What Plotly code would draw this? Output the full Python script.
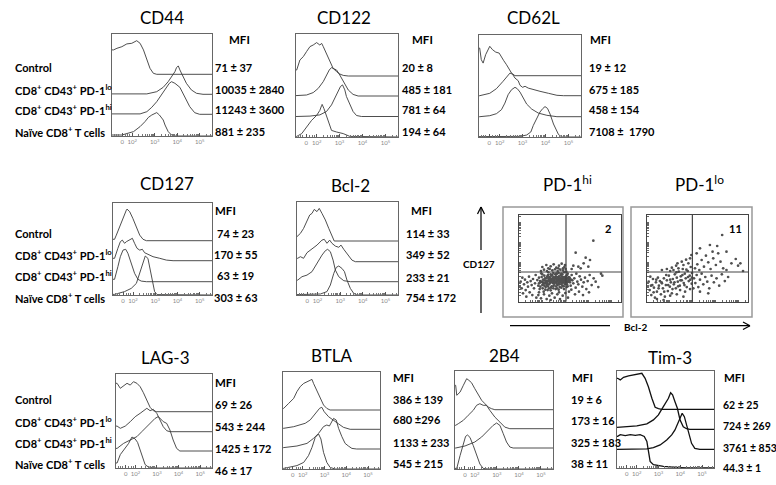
import math
import plotly.graph_objects as go

W, H = 776, 485
XMIN, XMAX = 1.1, 5.55
LANE_PX = 20.0

# ---------------- text data ----------------
GROUPS = ["Control",
          "CD8<sup>+</sup> CD43<sup>+</sup> PD-1<sup>lo</sup>",
          "CD8<sup>+</sup> CD43<sup>+</sup> PD-1<sup>hi</sup>",
          "Naïve CD8<sup>+</sup> T cells"]
TICK_VALUES = [1.55, 2, 3, 4, 5]
TICK_TEXT = ["0", "10<sup>2</sup>", "10<sup>3</sup>", "10<sup>4</sup>", "10<sup>5</sup>"]

MFI_CD44 = ["71 ± 37", "10035 ± 2840", "11243 ± 3600", "881 ± 235"]
MFI_CD122 = ["20 ± 8", "485 ± 181", "781 ± 64", "194 ± 64"]
MFI_CD62L = ["19 ± 12", "675 ± 185", "458 ± 154", "7108 ±  1790"]
MFI_CD127 = ["74 ± 23", "170 ± 55", "63 ± 19", "303 ± 63"]
MFI_BCL2 = ["114 ± 33", "349 ± 52", "233 ± 21", "754 ± 172"]
MFI_LAG3 = ["69 ± 26", "543 ± 244", "1425 ± 172", "46 ± 17"]
MFI_BTLA = ["386 ± 139", "680 ±296", "1133 ± 233", "545 ± 215"]
MFI_2B4 = ["19 ± 6", "173 ± 16", "325 ± 183", "38 ± 11"]
MFI_TIM3 = ["62 ± 25", "724 ± 269", "3761 ± 853", "44.3 ± 1"]

QUADRANT_PCT_HI = "2"
QUADRANT_PCT_LO = "11"

# ---------------- histogram data (log-decade position, relative count) ----------------
CD44_CONTROL_U = [1.17, 1.32, 1.54, 1.76, 1.98, 2.2, 2.35, 2.5, 2.65, 2.79, 2.94, 3.09]
CD44_CONTROL_H = [1.22, 1.3, 1.38, 1.52, 1.55, 1.68, 1.55, 1.22, 0.72, 0.3, 0.05, 0]
CD44_LO_U = [2.65, 3.09, 3.38, 3.6, 3.75, 3.9, 3.97, 4.05, 4.12, 4.24, 4.41, 4.63, 4.86, 5.15]
CD44_LO_H = [0.02, 0.13, 0.35, 0.63, 0.88, 1.13, 1.33, 1.42, 1.22, 0.97, 0.55, 0.22, 0.05, 0]
CD44_HI_U = [2.35, 2.65, 2.87, 3.09, 3.24, 3.38, 3.53, 3.65, 3.75, 3.9, 4.12, 4.34, 4.56, 4.78, 5.0]
CD44_HI_H = [0.02, 0.13, 0.35, 0.63, 0.88, 1.13, 1.35, 1.55, 1.63, 1.55, 1.35, 0.88, 0.38, 0.08, 0]
CD44_NAIVE_U = [1.54, 2.06, 2.35, 2.57, 2.72, 2.87, 3.01, 3.09, 3.21, 3.31, 3.38, 3.46, 3.6, 3.75, 3.9]
CD44_NAIVE_H = [0.05, 0.22, 0.47, 0.72, 0.93, 1.05, 1.13, 1.17, 1.05, 0.93, 0.8, 0.55, 0.22, 0.05, 0]

CD122_CONTROL_U = [1.13, 1.27, 1.42, 1.56, 1.71, 1.85, 2.0, 2.14, 2.22, 2.29, 2.43, 2.58, 2.72, 2.87, 3.01, 3.16, 3.38]
CD122_CONTROL_H = [0.3, 0.8, 0.97, 1.22, 1.47, 1.55, 1.67, 1.55, 1.63, 1.47, 1.13, 0.72, 0.38, 0.22, 0.1, 0.03, 0]
CD122_LO_U = [1.13, 1.56, 1.85, 2.07, 2.29, 2.43, 2.55, 2.65, 2.8, 2.87, 3.01, 3.16, 3.38, 3.59, 3.81]
CD122_LO_H = [0.02, 0.05, 0.17, 0.38, 0.72, 1.05, 1.3, 1.42, 1.35, 1.3, 1.05, 0.72, 0.3, 0.08, 0]
CD122_HI_U = [1.13, 1.71, 2.14, 2.43, 2.65, 2.8, 2.94, 3.04, 3.13, 3.23, 3.3, 3.45, 3.59, 3.74, 3.96]
CD122_HI_H = [0, 0.02, 0.08, 0.25, 0.58, 0.92, 1.25, 1.5, 1.58, 1.33, 1.0, 0.58, 0.25, 0.05, 0]
CD122_NAIVE_U = [1.13, 1.35, 1.56, 1.78, 2.0, 2.14, 2.22, 2.24, 2.32, 2.43, 2.58, 2.65, 2.87, 3.16, 3.45]
CD122_NAIVE_H = [0.03, 0.17, 0.5, 0.83, 1.08, 1.33, 1.58, 1.63, 1.42, 1.08, 0.58, 0.33, 0.25, 0.17, 0.03]

CD62L_CONTROL_U = [1.13, 1.2, 1.28, 1.39, 1.5, 1.57, 1.69, 1.83, 1.98, 2.08, 2.18, 2.3, 2.42, 2.52, 2.67]
CD62L_CONTROL_H = [1.38, 0.8, 0.63, 1.05, 1.35, 1.47, 1.3, 1.18, 1.13, 0.97, 0.75, 0.55, 0.35, 0.13, 0]
CD62L_LO_U = [1.13, 1.57, 1.86, 2.15, 2.3, 2.45, 2.56, 2.67, 2.81, 2.89, 3.0, 3.11, 3.25, 3.47, 3.76, 4.13, 4.5, 4.79]
CD62L_LO_H = [0, 0.12, 0.35, 0.72, 0.92, 1.13, 1.08, 0.88, 0.75, 0.52, 0.42, 0.47, 0.38, 0.3, 0.22, 0.12, 0.02, 0]
CD62L_HI_U = [1.13, 1.57, 1.86, 2.08, 2.23, 2.37, 2.52, 2.67, 2.77, 2.89, 3.03, 3.18, 3.4, 3.69, 4.06, 4.5]
CD62L_HI_H = [0, 0.05, 0.15, 0.35, 0.68, 1.1, 1.35, 1.47, 1.4, 1.23, 0.9, 0.63, 0.38, 0.18, 0.07, 0]
CD62L_NAIVE_U = [1.13, 2.89, 3.18, 3.36, 3.47, 3.62, 3.76, 3.88, 3.98, 4.09, 4.2, 4.35, 4.47, 4.57, 4.72]
CD62L_NAIVE_H = [0.02, 0.03, 0.1, 0.25, 0.58, 0.95, 1.25, 1.42, 1.52, 1.43, 1.15, 0.65, 0.32, 0.12, 0]

CD127_CONTROL_U = [1.17, 1.25, 1.4, 1.55, 1.7, 1.73, 1.85, 1.99, 2.15, 2.3, 2.45, 2.6]
CD127_CONTROL_H = [0.07, 0.28, 0.7, 1.2, 1.53, 1.58, 1.45, 1.12, 0.7, 0.28, 0.07, 0]
CD127_LO_U = [1.17, 1.32, 1.43, 1.52, 1.62, 1.7, 1.85, 1.97, 2.07, 2.18, 2.3, 2.42, 2.52, 2.67, 2.9, 3.2, 3.5, 3.8]
CD127_LO_H = [0.12, 0.62, 0.95, 1.03, 0.87, 0.95, 1.03, 1.12, 0.87, 0.62, 0.53, 0.57, 0.4, 0.32, 0.2, 0.12, 0.03, 0]
CD127_HI_U = [1.17, 1.32, 1.43, 1.55, 1.67, 1.77, 1.92, 2.07, 2.22, 2.37, 2.6]
CD127_HI_H = [0.12, 0.75, 1.25, 1.58, 1.62, 1.42, 0.92, 0.42, 0.12, 0.03, 0]
CD127_NAIVE_U = [1.17, 1.62, 1.92, 2.15, 2.3, 2.45, 2.55, 2.67, 2.78, 2.9, 2.97, 3.08]
CD127_NAIVE_H = [0.03, 0.17, 0.33, 0.58, 1.08, 1.67, 1.95, 1.83, 1.25, 0.58, 0.17, 0.02]

BCL2_CONTROL_U = [1.1, 1.25, 1.39, 1.54, 1.66, 1.76, 1.86, 1.98, 2.08, 2.2, 2.35, 2.5, 2.64, 2.74]
BCL2_CONTROL_H = [0.22, 0.38, 0.63, 0.97, 1.3, 1.38, 1.58, 1.47, 1.63, 1.38, 1.05, 0.63, 0.22, 0]
BCL2_LO_U = [1.13, 1.25, 1.39, 1.54, 1.76, 1.98, 2.2, 2.3, 2.42, 2.54, 2.64, 2.79, 2.94, 3.04, 3.16, 3.33, 3.52, 3.67]
BCL2_LO_H = [0.17, 0.25, 0.17, 0.45, 0.62, 0.83, 1.08, 1.12, 0.92, 1.08, 0.92, 0.78, 0.72, 0.83, 0.62, 0.37, 0.08, 0]
BCL2_HI_U = [1.13, 1.32, 1.54, 1.76, 1.98, 2.2, 2.35, 2.45, 2.57, 2.69, 2.79, 2.94, 3.16, 3.45]
BCL2_HI_H = [0.08, 0.25, 0.33, 0.5, 0.92, 1.33, 1.55, 1.62, 1.5, 1.08, 0.58, 0.25, 0.05, 0]
BCL2_NAIVE_U = [1.13, 2.13, 2.42, 2.57, 2.72, 2.83, 2.94, 3.08, 3.19, 3.3, 3.45, 3.6, 3.74]
BCL2_NAIVE_H = [0.02, 0.05, 0.17, 0.5, 1.08, 1.38, 1.45, 1.33, 1.17, 0.75, 0.33, 0.08, 0]

LAG3_CONTROL_U = [1.15, 1.3, 1.45, 1.61, 1.76, 1.91, 2.07, 2.22, 2.37, 2.53, 2.68, 2.83, 2.99]
LAG3_CONTROL_H = [1.42, 1.17, 1.28, 1.42, 1.33, 1.5, 1.42, 1.25, 0.95, 0.58, 0.22, 0.05, 0]
LAG3_LO_U = [1.15, 1.3, 1.53, 1.76, 1.99, 2.22, 2.4, 2.53, 2.68, 2.83, 2.99, 3.14, 3.29, 3.45, 3.6]
LAG3_LO_H = [0.28, 0.17, 0.28, 0.5, 0.75, 0.92, 1.08, 1.17, 1.05, 1.12, 0.92, 0.58, 0.25, 0.05, 0]
LAG3_HI_U = [1.15, 1.45, 1.76, 2.07, 2.3, 2.53, 2.76, 2.91, 3.06, 3.14, 3.29, 3.45, 3.6, 3.75, 3.91, 4.06]
LAG3_HI_H = [0.13, 0.38, 0.55, 0.72, 0.97, 1.22, 1.47, 1.63, 1.72, 1.63, 1.47, 1.38, 1.05, 0.55, 0.13, 0]
LAG3_NAIVE_U = [1.15, 1.3, 1.53, 1.68, 1.84, 1.99, 2.1, 2.22, 2.34, 2.45, 2.6, 2.99]
LAG3_NAIVE_H = [0.25, 0.67, 1.0, 1.22, 1.55, 1.45, 1.28, 0.92, 0.5, 0.17, 0.05, 0]

BTLA_CONTROL_U = [1.13, 1.36, 1.59, 1.74, 1.89, 2.05, 2.2, 2.35, 2.43, 2.5, 2.65, 2.81, 2.96, 3.11, 3.26]
BTLA_CONTROL_H = [0.08, 0.33, 0.58, 0.92, 1.17, 1.33, 1.42, 1.47, 1.53, 1.33, 1.0, 0.58, 0.25, 0.08, 0]
BTLA_LO_U = [1.13, 1.59, 1.89, 2.12, 2.35, 2.58, 2.78, 2.88, 2.99, 3.19, 3.42, 3.65, 3.87, 4.18]
BTLA_LO_H = [0.05, 0.13, 0.22, 0.3, 0.47, 0.8, 1.05, 1.1, 0.88, 0.63, 0.47, 0.27, 0.1, 0]
BTLA_HI_U = [1.13, 1.74, 2.2, 2.5, 2.73, 2.96, 3.11, 3.23, 3.34, 3.42, 3.54, 3.65, 3.8, 3.95, 4.1, 4.26, 4.48]
BTLA_HI_H = [0.07, 0.15, 0.28, 0.53, 0.78, 1.12, 1.2, 1.15, 1.37, 1.53, 1.45, 1.03, 0.62, 0.28, 0.15, 0.03, 0]
BTLA_NAIVE_U = [1.13, 1.74, 2.05, 2.27, 2.43, 2.58, 2.73, 2.84, 2.96, 3.11, 3.26, 3.49]
BTLA_NAIVE_H = [0.03, 0.17, 0.33, 0.67, 1.08, 1.58, 1.75, 1.5, 0.83, 0.33, 0.08, 0]

B2B4_CONTROL_U = [1.13, 1.18, 1.33, 1.48, 1.63, 1.73, 1.85, 2.0, 2.16, 2.31, 2.46, 2.61, 2.76, 2.91]
B2B4_CONTROL_H = [1.22, 0.72, 0.88, 1.22, 1.55, 1.47, 1.35, 1.05, 0.72, 0.47, 0.3, 0.13, 0.05, 0]
B2B4_LO_U = [1.13, 1.25, 1.48, 1.7, 1.93, 2.08, 2.23, 2.38, 2.53, 2.68, 2.91, 3.14, 3.36, 3.59]
B2B4_LO_H = [0.17, 0.25, 0.42, 0.67, 0.92, 1.17, 1.25, 1.17, 1.17, 0.92, 0.58, 0.33, 0.08, 0]
B2B4_HI_U = [1.13, 1.55, 2.0, 2.31, 2.61, 2.83, 2.99, 3.14, 3.29, 3.44, 3.59, 3.74]
B2B4_HI_H = [0, 0.1, 0.3, 0.55, 0.88, 1.13, 1.25, 1.13, 0.72, 0.3, 0.05, 0]
B2B4_NAIVE_U = [1.18, 1.33, 1.48, 1.58, 1.67, 1.78, 1.93, 2.08, 2.23, 2.38, 2.61]
B2B4_NAIVE_H = [0.03, 0.67, 1.33, 1.63, 1.7, 1.58, 1.17, 0.67, 0.25, 0.03, 0]

TIM3_CONTROL_U = [1.13, 1.25, 1.4, 1.63, 1.86, 2.09, 2.24, 2.39, 2.54, 2.7, 2.85, 3.0, 3.15]
TIM3_CONTROL_H = [1.55, 1.47, 1.6, 1.67, 1.72, 1.8, 1.8, 1.55, 1.13, 0.55, 0.1, 0.03, 0]
TIM3_LO_U = [1.13, 1.56, 2.01, 2.47, 2.77, 3.0, 3.15, 3.3, 3.46, 3.56, 3.65, 3.76, 3.87, 3.99, 4.14, 4.29, 4.44]
TIM3_LO_H = [0.1, 0.13, 0.17, 0.27, 0.47, 0.72, 1.0, 1.3, 1.55, 1.83, 1.72, 1.38, 1.05, 0.47, 0.13, 0.03, 0]
TIM3_HI_U = [1.13, 2.47, 2.77, 3.08, 3.38, 3.61, 3.76, 3.91, 4.02, 4.09, 4.19, 4.29, 4.4, 4.52, 4.67, 4.9]
TIM3_HI_H = [0, 0.02, 0.08, 0.22, 0.47, 0.72, 0.97, 1.38, 1.67, 1.8, 1.63, 1.22, 0.72, 0.3, 0.05, 0]
TIM3_NAIVE_U = [1.13, 1.25, 1.48, 1.71, 1.94, 2.16, 2.35, 2.47, 2.54, 2.62, 2.77, 3.23, 3.99, 4.29]
TIM3_NAIVE_H = [1.58, 1.67, 1.62, 1.67, 1.63, 1.67, 1.58, 1.33, 0.75, 0.33, 0.17, 0.08, 0.02, 0]

# ---------------- dot plot data (Bcl-2 channel, CD127 channel) ----------------
PDHI_POINTS = [
    (5, 60), (8, 40), (10, 72), (12, 25), (15, 52), (18, 66), (20, 35), (22, 15), (25, 58), (27, 45),
    (30, 75), (32, 28), (35, 62), (38, 50), (40, 20), (42, 68), (45, 40), (48, 55), (50, 80), (52, 12),
    (55, 65), (58, 48), (60, 72), (62, 38), (65, 58), (67, 85), (70, 50), (72, 66), (74, 30), (76, 78),
    (78, 55), (80, 44), (82, 70), (84, 62), (86, 35), (88, 88), (90, 52), (92, 74), (94, 60), (96, 42),
    (98, 68), (100, 80), (102, 56), (104, 48), (106, 64), (108, 72), (110, 38), (112, 58), (114, 84), (116, 50),
    (118, 66), (120, 76), (122, 44), (124, 60), (126, 70), (128, 54), (130, 82), (132, 62), (134, 46), (136, 74),
    (138, 58), (140, 66), (142, 90), (144, 52),
    (63, 62), (68, 74), (73, 54), (77, 64), (81, 58), (85, 76), (89, 66), (93, 56), (97, 78), (101, 70),
    (105, 58), (109, 82), (113, 66), (117, 74), (121, 60), (125, 80), (129, 68), (133, 70), (137, 64), (141, 76),
    (145, 70), (64, 45), (71, 40), (79, 36), (87, 46), (95, 34), (103, 40), (111, 46), (119, 36), (127, 42),
    (135, 38), (143, 44), (66, 92), (75, 96), (84, 92), (92, 98), (100, 94), (108, 97), (116, 92), (124, 96),
    (132, 94), (140, 98), (58, 20), (66, 10), (75, 22), (83, 8), (91, 18), (99, 25), (107, 12), (115, 22),
    (123, 8), (131, 18), (139, 26), (147, 12), (60, 28), (95, 5), (120, 28),
    (70, 104), (82, 110), (95, 106), (104, 112), (112, 102), (120, 108), (128, 114), (136, 104), (138, 110),
    (88, 100), (118, 100), (132, 100),
    (148, 60), (152, 72), (155, 48), (158, 80), (160, 64), (163, 55), (166, 70), (170, 42), (172, 84), (175, 60),
    (178, 52), (182, 76), (186, 66), (190, 45), (194, 58), (198, 72), (202, 38), (206, 62), (212, 80), (218, 50),
    (224, 70), (230, 60), (238, 44), (246, 84), (250, 78), (146, 84), (150, 30), (157, 36), (168, 22), (180, 30),
    (192, 20), (210, 28),
    (223, 183), (170, 147), (200, 132), (213, 125), (194, 115), (178, 105), (158, 98), (185, 100), (163, 108), (208, 105),
    (91, 62), (99, 58), (107, 68), (115, 62), (123, 70), (131, 58), (139, 72), (147, 64), (153, 58), (103, 74),
    (111, 76), (119, 56), (127, 64), (135, 66), (143, 60), (151, 68), (96, 66), (104, 62), (112, 70), (120, 64),
    (128, 76), (136, 56), (144, 80), (149, 74), (156, 66),
    (86, 60), (94, 70), (102, 64), (110, 60), (118, 72), (126, 58), (134, 62), (142, 68), (150, 62), (88, 72),
    (97, 62), (105, 72), (113, 54), (121, 68), (129, 62), (137, 70), (145, 58), (153, 66), (100, 66), (108, 58),
    (116, 68), (124, 66), (132, 74), (140, 60), (148, 70), (84, 54), (92, 66), (106, 54), (122, 52), (138, 52),
    (72, 58), (78, 70), (80, 62), (87, 80), (95, 82), (103, 86), (111, 84), (119, 86), (127, 84), (135, 88),
    (60, 55), (68, 60), (70, 82), (76, 48), (83, 50), (90, 40), (98, 46), (114, 40), (130, 48), (146, 46),
]
PDLO_POINTS = [
    (5, 60), (8, 35), (10, 75), (13, 20), (16, 50), (18, 68), (21, 42), (24, 12), (27, 58), (30, 30),
    (33, 72), (36, 48), (39, 62), (42, 22), (45, 55), (48, 40), (51, 70), (54, 15), (57, 50), (60, 64),
    (63, 32), (66, 78), (69, 45), (72, 58), (75, 25),
    (78, 68), (81, 52), (84, 82), (87, 40), (90, 72), (93, 60), (96, 90), (99, 48), (102, 76), (105, 64),
    (108, 98), (111, 56), (114, 84), (117, 70), (120, 44), (123, 92), (126, 62), (129, 78), (132, 104), (135, 54),
    (136, 86), (80, 95), (95, 100), (110, 110), (125, 115), (100, 35), (115, 30), (130, 38),
    (45, 95), (60, 98), (75, 102), (88, 108), (105, 120), (118, 126), (130, 130), (134, 140), (70, 92), (92, 115),
    (142, 70), (146, 56), (150, 80), (155, 44), (160, 66), (165, 84), (170, 52), (176, 74), (182, 60), (188, 40),
    (195, 78), (202, 58), (210, 70), (218, 48), (226, 82), (235, 62), (245, 74), (140, 40), (160, 30), (185, 25),
    (145, 100), (152, 112), (158, 95), (165, 125), (172, 105), (178, 138), (185, 118), (192, 98), (200, 130), (208, 110),
    (215, 145), (222, 120), (230, 100), (240, 150), (255, 115), (268, 128), (282, 115), (290, 92), (227, 200), (190, 170),
    (212, 167), (150, 145), (160, 160), (198, 150), (275, 108), (240, 95),
    (12, 48), (20, 28), (28, 66), (35, 40), (44, 58), (52, 30), (58, 80), (64, 50), (70, 66), (77, 38),
    (83, 58), (89, 88), (94, 46), (101, 64), (107, 80), (113, 50), (119, 96), (124, 74), (131, 66), (136, 72),
    (30, 8), (50, 5), (70, 18), (90, 22), (110, 15),
]
QUAD_HI_X, QUAD_LO_X, QUAD_Y = 141, 137, 89
SCAT_HI_XRANGE, SCAT_LO_XRANGE, SCAT_YRANGE = 306, 305, 260

# ---------------- layout ----------------
FONT = "Lato, 'Open Sans', sans-serif"
def px(x):
    return x / W
def py(y):
    return 1 - y / H

HIST_PANELS = [
    dict(title="CD44", box=(112, 212, 34, 136), base=(74.3, 94.3, 114.3), tpos=(162, 18),
         curves=[(CD44_CONTROL_U, CD44_CONTROL_H), (CD44_LO_U, CD44_LO_H), (CD44_HI_U, CD44_HI_H), (CD44_NAIVE_U, CD44_NAIVE_H)],
         mfi=MFI_CD44, mx=213, malign="left", my=(68, 89, 110, 132), head=(227, 39)),
    dict(title="CD122", box=(296, 398, 34, 137), base=(76, 96, 116.5), tpos=(344, 18),
         curves=[(CD122_CONTROL_U, CD122_CONTROL_H), (CD122_LO_U, CD122_LO_H), (CD122_HI_U, CD122_HI_H), (CD122_NAIVE_U, CD122_NAIVE_H)],
         mfi=MFI_CD122, mx=400, malign="left", my=(68, 89, 110, 132), head=(410, 39)),
    dict(title="CD62L", box=(479, 581, 35, 137), base=(75.7, 95.7, 116.7), tpos=(533, 18),
         curves=[(CD62L_CONTROL_U, CD62L_CONTROL_H), (CD62L_LO_U, CD62L_LO_H), (CD62L_HI_U, CD62L_HI_H), (CD62L_NAIVE_U, CD62L_NAIVE_H)],
         mfi=MFI_CD62L, mx=587, malign="left", my=(68, 89, 110, 132), head=(588, 39)),
    dict(title="CD127", box=(113, 212, 203, 295), base=(240.7, 260.7, 281.7), tpos=(167, 183),
         curves=[(CD127_CONTROL_U, CD127_CONTROL_H), (CD127_LO_U, CD127_LO_H), (CD127_HI_U, CD127_HI_H), (CD127_NAIVE_U, CD127_NAIVE_H)],
         mfi=MFI_CD127, mx=236, malign="center", my=(233, 254, 275, 297), head=(213, 210)),
    dict(title="Bcl-2", box=(297, 398, 202, 295), base=(241, 261.7, 281.7), tpos=(350, 185),
         curves=[(BCL2_CONTROL_U, BCL2_CONTROL_H), (BCL2_LO_U, BCL2_LO_H), (BCL2_HI_U, BCL2_HI_H), (BCL2_NAIVE_U, BCL2_NAIVE_H)],
         mfi=MFI_BCL2, mx=404, malign="left", my=(233, 254, 277, 297), head=(409, 210)),
    dict(title="LAG-3", box=(116, 212, 374, 468), base=(411.7, 431.7, 451), tpos=(165, 357),
         curves=[(LAG3_CONTROL_U, LAG3_CONTROL_H), (LAG3_LO_U, LAG3_LO_H), (LAG3_HI_U, LAG3_HI_H), (LAG3_NAIVE_U, LAG3_NAIVE_H)],
         mfi=MFI_LAG3, mx=213, malign="left", my=(404, 426, 448, 470), head=(213, 382)),
    dict(title="BTLA", box=(283, 380, 372, 469), base=(410, 429.3, 449), tpos=(332, 355),
         curves=[(BTLA_CONTROL_U, BTLA_CONTROL_H), (BTLA_LO_U, BTLA_LO_H), (BTLA_HI_U, BTLA_HI_H), (BTLA_NAIVE_U, BTLA_NAIVE_H)],
         mfi=MFI_BTLA, mx=391, malign="left", my=(399, 419, 442, 463), head=(391, 377)),
    dict(title="2B4", box=(455, 553, 371, 469), base=(409.7, 428.7, 448), tpos=(504, 355),
         curves=[(B2B4_CONTROL_U, B2B4_CONTROL_H), (B2B4_LO_U, B2B4_LO_H), (B2B4_HI_U, B2B4_HI_H), (B2B4_NAIVE_U, B2B4_NAIVE_H)],
         mfi=MFI_2B4, mx=569, malign="left", my=(399, 420, 442, 463), head=(570, 377)),
    dict(title="Tim-3", box=(617, 714, 371, 468), base=(409.3, 429.3, 449.3), tpos=(670, 357), bold=True,
         curves=[(TIM3_CONTROL_U, TIM3_CONTROL_H), (TIM3_LO_U, TIM3_LO_H), (TIM3_HI_U, TIM3_HI_H), (TIM3_NAIVE_U, TIM3_NAIVE_H)],
         mfi=MFI_TIM3, mx=721, malign="left", my=(405, 426, 448, 468), head=(722, 377), msize=10.5),
]
ROW_LABEL_Y = [(68, 89, 110, 132), (233, 254, 275, 297), (399, 421, 442, 463)]

MINOR = [1.2, 1.3, 1.4, 1.7, 1.8, 1.9] + [d + math.log10(k) for d in (2, 3, 4) for k in range(2, 10)] + [5 + math.log10(k) for k in (2, 3)]

fig = go.Figure()
layout = dict(width=W, height=H, margin=dict(l=0, r=0, t=0, b=0),
              paper_bgcolor="white", plot_bgcolor="rgba(0,0,0,0)", showlegend=False,
              font=dict(family=FONT, color="black"))
annotations = []
shapes = []

def akey(prefix, n):
    return prefix + ("" if n == 1 else str(n))

for i, p in enumerate(HIST_PANELS):
    n = i + 1
    L, R, T, B = p["box"]
    xk, yk = akey("xaxis", n), akey("yaxis", n)
    xr, yr = akey("x", n), akey("y", n)
    layout[xk] = dict(domain=[px(L), px(R)], range=[XMIN, XMAX], anchor=yr,
                      showline=True, mirror=True, linecolor="#666", linewidth=1,
                      showgrid=False, zeroline=False, ticks="inside", ticklen=3, tickwidth=1, tickcolor="#555",
                      tickmode="array", tickvals=TICK_VALUES, ticktext=TICK_TEXT,
                      tickfont=dict(size=6, color="#888", family=FONT),
                      minor=dict(tickmode="array", tickvals=MINOR, ticks="inside", ticklen=2, tickcolor="#777"))
    ytop = (B - T) / LANE_PX
    layout[yk] = dict(domain=[py(B), py(T)], range=[0, ytop], anchor=xr,
                      showline=True, mirror=True, linecolor="#666", linewidth=1,
                      showgrid=False, zeroline=False, showticklabels=False, ticks="")
    offsets = [(B - b) / LANE_PX for b in p["base"]] + [0.0]
    lw = 1.3 if p.get("bold") else 0.9
    col = "#111" if p.get("bold") else "#3a3a3a"
    for (u, h), off in zip(p["curves"], offsets):
        xs = [XMIN] + list(u) + [XMAX]
        ys = [off + h[0]] + [off + v for v in h] + [off]
        fig.add_trace(go.Scatter(x=xs, y=ys, mode="lines", xaxis=xr, yaxis=yr,
                                 line=dict(color=col, width=lw), hoverinfo="skip"))
    annotations.append(dict(text=p["title"], x=px(p["tpos"][0]), y=py(p["tpos"][1]), xref="paper", yref="paper",
                            xanchor="center", yanchor="middle", showarrow=False, font=dict(size=17, family=FONT)))
    annotations.append(dict(text="<b>MFI</b>", x=px(p["head"][0]), y=py(p["head"][1]), xref="paper", yref="paper",
                            xanchor="left", yanchor="middle", showarrow=False, font=dict(size=11.5, family=FONT)))
    for txt, yy in zip(p["mfi"], p["my"]):
        annotations.append(dict(text="<b>" + txt + "</b>", x=px(p["mx"]), y=py(yy), xref="paper", yref="paper",
                                xanchor=p["malign"], yanchor="middle", showarrow=False,
                                font=dict(size=p.get("msize", 11), family=FONT)))

for rows in ROW_LABEL_Y:
    for txt, yy in zip(GROUPS, rows):
        annotations.append(dict(text="<b>" + txt + "</b>", x=px(13), y=py(yy), xref="paper", yref="paper",
                                xanchor="left", yanchor="middle", showarrow=False, font=dict(size=11, family=FONT)))

# ---------------- dot plots ----------------
SCAT = [
    dict(title="PD-1<sup>hi</sup>", pts=PDHI_POINTS, inner=(519, 621, 215, 301.7), outer=(503, 623, 207, 317),
         qx=QUAD_HI_X, xr=SCAT_HI_XRANGE, tpos=(567, 183), pct=QUADRANT_PCT_HI, ppos=(608, 228)),
    dict(title="PD-1<sup>lo</sup>", pts=PDLO_POINTS, inner=(647, 748, 215, 301.7), outer=(631, 752, 207, 317),
         qx=QUAD_LO_X, xr=SCAT_LO_XRANGE, tpos=(699, 183), pct=QUADRANT_PCT_LO, ppos=(735, 228)),
]
for j, s in enumerate(SCAT):
    n = len(HIST_PANELS) + 1 + j
    L, R, T, B = s["inner"]
    xk, yk = akey("xaxis", n), akey("yaxis", n)
    xr, yr = akey("x", n), akey("y", n)
    dec_x = s["xr"] / 4.4
    dec_y = SCAT_YRANGE / 4.4
    xt = [d * dec_x + dec_x * math.log10(k) for d in range(5) for k in range(1, 10) if d * dec_x + dec_x * math.log10(k) < s["xr"]]
    yt = [d * dec_y + dec_y * math.log10(k) for d in range(5) for k in range(1, 10) if d * dec_y + dec_y * math.log10(k) < SCAT_YRANGE]
    layout[xk] = dict(domain=[px(L), px(R)], range=[0, s["xr"]], anchor=yr, showline=True, mirror=True,
                      linecolor="#444", linewidth=1.2, showgrid=False, zeroline=False, showticklabels=False,
                      ticks="inside", ticklen=2, tickcolor="#666", tickmode="array", tickvals=xt)
    layout[yk] = dict(domain=[py(B), py(T)], range=[0, SCAT_YRANGE], anchor=xr, showline=True, mirror=True,
                      linecolor="#444", linewidth=1.2, showgrid=False, zeroline=False, showticklabels=False,
                      ticks="inside", ticklen=2, tickcolor="#666", tickmode="array", tickvals=yt)
    xs = [a for a, b in s["pts"]]
    ys = [b for a, b in s["pts"]]
    fig.add_trace(go.Scatter(x=xs, y=ys, mode="markers", xaxis=xr, yaxis=yr, hoverinfo="skip",
                             marker=dict(size=2.7, color="#505050", line=dict(width=0))))
    shapes.append(dict(type="line", xref=xr, yref=yr, x0=s["qx"], x1=s["qx"], y0=0, y1=SCAT_YRANGE,
                       line=dict(color="#444", width=1.2)))
    shapes.append(dict(type="line", xref=xr, yref=yr, x0=0, x1=s["xr"], y0=QUAD_Y, y1=QUAD_Y,
                       line=dict(color="#444", width=1.2)))
    oL, oR, oT, oB = s["outer"]
    shapes.append(dict(type="rect", xref="paper", yref="paper", x0=px(oL), x1=px(oR), y0=py(oB), y1=py(oT),
                       line=dict(color="#999", width=1.5)))
    annotations.append(dict(text=s["title"], x=px(s["tpos"][0]), y=py(s["tpos"][1]), xref="paper", yref="paper",
                            xanchor="center", yanchor="middle", showarrow=False, font=dict(size=17, family=FONT)))
    annotations.append(dict(text="<b>" + s["pct"] + "</b>", x=px(s["ppos"][0]), y=py(s["ppos"][1]), xref="paper",
                            yref="paper", xanchor="center", yanchor="middle", showarrow=False,
                            font=dict(size=11, family=FONT)))

def pline(x0, y0, x1, y1, w=1.2):
    shapes.append(dict(type="line", xref="paper", yref="paper", x0=px(x0), y0=py(y0), x1=px(x1), y1=py(y1),
                       line=dict(color="black", width=w)))
pline(481, 250, 481, 207)
pline(481, 278, 481, 313)
pline(481, 207, 477.5, 214)
pline(481, 207, 484.5, 214)
pline(510, 325.7, 610, 325.7)
pline(660, 325.7, 750, 325.7)
pline(750, 325.7, 743, 322)
pline(750, 325.7, 743, 329.5)
annotations.append(dict(text="<b>CD127</b>", x=px(479), y=py(264), xref="paper", yref="paper", xanchor="center",
                        yanchor="middle", showarrow=False, font=dict(size=10, family=FONT)))
annotations.append(dict(text="<b>Bcl-2</b>", x=px(636), y=py(326.5), xref="paper", yref="paper", xanchor="center",
                        yanchor="middle", showarrow=False, font=dict(size=10, family=FONT)))

layout["annotations"] = annotations
layout["shapes"] = shapes
fig.update_layout(**layout)
fig.write_html("out.html", config={"displayModeBar": False, "staticPlot": True},
               post_script="document.body.style.margin='0px';document.body.style.padding='0px';")
